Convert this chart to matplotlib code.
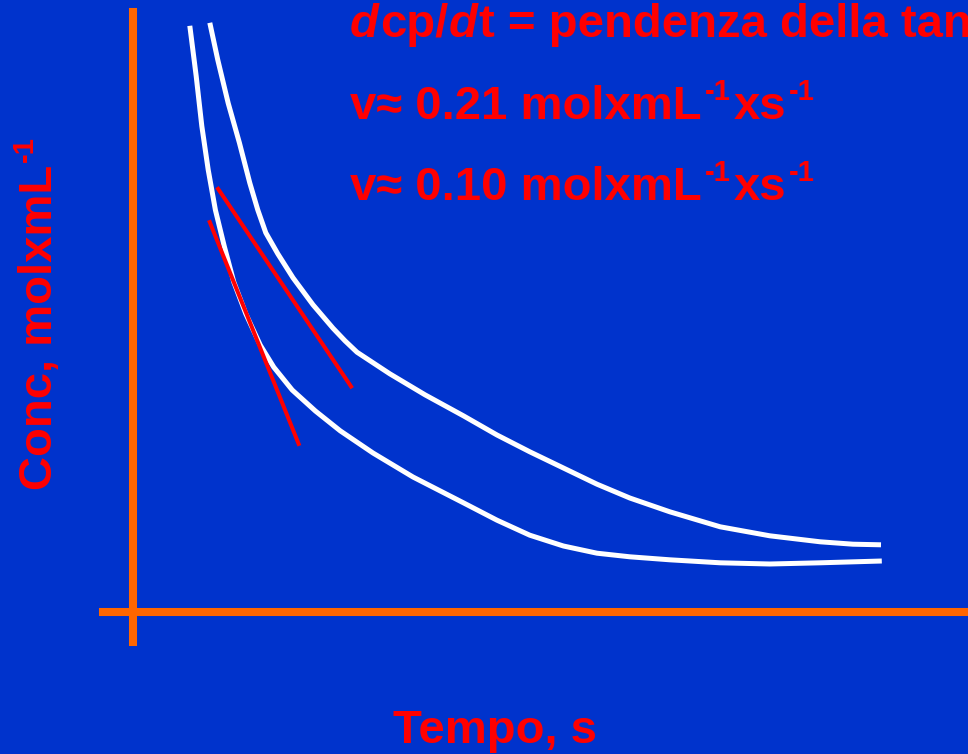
import matplotlib
matplotlib.use("Agg")
import matplotlib.pyplot as plt
from matplotlib.transforms import IdentityTransform

# ---- data (time / concentration, arbitrary units) ----
t_low = [0.71, 0.79, 0.86, 0.94, 1.03, 1.14, 1.26, 1.41, 1.59, 1.76, 1.99, 2.28, 2.59,
         3.00, 3.50, 4.13, 4.55, 4.96, 5.38, 5.80, 6.21, 6.71, 7.34, 7.96, 8.59, 9.36]
c_low = [9.77, 8.93, 8.10, 7.37, 6.70, 6.10, 5.50, 4.97, 4.45, 4.08, 3.70, 3.35, 3.02,
         2.65, 2.25, 1.82, 1.53, 1.28, 1.10, 0.98, 0.92, 0.87, 0.82, 0.80, 0.82, 0.85]

t_up = [0.96, 1.06, 1.19, 1.33, 1.46, 1.56, 1.66, 1.81, 2.00, 2.25, 2.50, 2.65, 2.80,
        3.21, 3.65, 4.13, 4.55, 4.96, 5.38, 5.80, 6.21, 6.71, 7.34, 7.96, 8.59, 9.00, 9.35]
c_up = [9.82, 9.20, 8.48, 7.82, 7.15, 6.70, 6.32, 5.97, 5.57, 5.12, 4.73, 4.52, 4.33,
        3.97, 3.62, 3.27, 2.95, 2.67, 2.40, 2.13, 1.90, 1.67, 1.42, 1.27, 1.17, 1.13, 1.12]

# tangent lines (start, end)
tan1_t = [1.05, 2.74]
tan1_c = [7.08, 3.73]
tan2_t = [0.95, 2.08]
tan2_c = [6.53, 2.77]

# text runs: (text, kind) kind = n normal, it italic, sup superscript
line1 = [("d", "it"), ("cp/", "n"), ("d", "it"), ("t = pendenza della tangente", "n")]
line2 = [("v≈ 0.21 molxmL", "n"), ("-1", "sup"), ("xs", "n"), ("-1", "sup")]
line3 = [("v≈ 0.10 molxmL", "n"), ("-1", "sup"), ("xs", "n"), ("-1", "sup")]
ylabel = [("Conc, molxmL", "n"), ("-1", "sup")]
xlabel = "Tempo, s"

BG = "#0033CC"
ORANGE = "#FF6600"
RED = "#FF0000"
FONT = "Liberation Sans"
SIZE = 34

fig = plt.figure(figsize=(9.68, 7.54), dpi=100, facecolor=BG)
ax = fig.add_axes([0, 0, 1, 1])
ax.set_facecolor("none")
ax.set_xlim(-133 / 80, (968 - 133) / 80)
ax.set_ylim(-(754 - 612) / 60, 612 / 60)

ax.plot(t_low, c_low, color="white", lw=3.6, solid_joinstyle="round", solid_capstyle="butt")
ax.plot(t_up, c_up, color="white", lw=3.6, solid_joinstyle="round", solid_capstyle="butt")
ax.plot(tan1_t, tan1_c, color=RED, lw=2.9, solid_capstyle="butt")
ax.plot(tan2_t, tan2_c, color=RED, lw=2.9, solid_capstyle="butt")

for s in ["top", "right"]:
    ax.spines[s].set_visible(False)
ax.spines["left"].set_position(("data", 0))
ax.spines["bottom"].set_position(("data", 0))
ax.spines["left"].set_bounds(-0.5, 10.0)
ax.spines["bottom"].set_bounds(-0.37, 10.5)
for s in ["left", "bottom"]:
    ax.spines[s].set_color(ORANGE)
    ax.spines[s].set_linewidth(5.8)
ax.set_xticks([])
ax.set_yticks([])

renderer = fig.canvas.get_renderer()


def put_runs(x, y, runs, vertical=False):
    # x, y in pixels from bottom-left; baseline start of the first run
    pos = y if vertical else x
    prev = None
    for s, kind in runs:
        fs = SIZE * 0.62 if kind == "sup" else SIZE
        lift = 0.4 * SIZE * 100 / 72 if kind == "sup" else 0
        style = "italic" if kind == "it" else "normal"
        if prev is not None:
            pos += 3 if "sup" in (kind, prev) else 1
        if vertical:
            t = fig.text(x - lift, pos, s, rotation=90, rotation_mode="anchor")
        else:
            t = fig.text(pos, y + lift, s)
        t.set(transform=IdentityTransform(), color=RED, fontsize=fs, fontweight="bold",
              fontstyle=style, family=[FONT, "DejaVu Sans"], ha="left", va="baseline")
        bb = t.get_window_extent(renderer)
        pos = bb.y1 if vertical else bb.x1
        prev = kind


put_runs(350, 754 - 37, line1)
put_runs(350, 754 - 119, line2)
put_runs(350, 754 - 200, line3)
put_runs(52, 754 - 490, ylabel, vertical=True)

fig.text(495 / 968, 1 - 743 / 754, xlabel, color=RED, fontsize=SIZE,
         fontweight="bold", family=FONT, ha="center", va="baseline")

fig.savefig("out.png", dpi=100, facecolor=BG)
